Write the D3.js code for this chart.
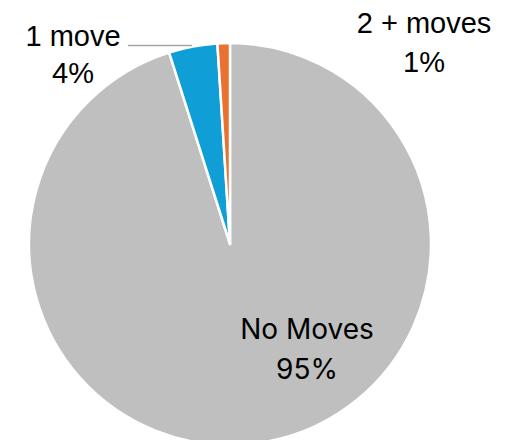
<!DOCTYPE html>
<html>
<head>
<meta charset="utf-8">
<script src="https://cdn.jsdelivr.net/npm/d3@7"></script>
<style>
  body { margin: 0; background: #fff; }
  svg { display: block; }
</style>
</head>
<body>
<div id="chart"></div>
<script>
// Data
var categories = ["No Moves", "1 move", "2 + moves"];
var values = [95.1, 3.9, 1.0];
var pctLabels = ["95%", "4%", "1%"];
var colors = ["#BFBFBF", "#0F9ED5", "#E97132"];

var width = 514,
    height = 440,
    radius = 201,
    cx = 230,
    cy = 244;

var svg = d3.select("#chart").append("svg")
    .attr("width", width)
    .attr("height", height);

var g = svg.append("g")
    .attr("transform", "translate(" + cx + "," + cy + ")");

var data = categories.map(function(c, i) {
    return { name: c, value: values[i], pct: pctLabels[i], color: colors[i] };
});

var pie = d3.pie()
    .sort(null)
    .value(function(d) { return d.value; });

var arc = d3.arc()
    .innerRadius(0)
    .outerRadius(radius);

var arcs = pie(data);

g.selectAll("path")
    .data(arcs)
    .enter().append("path")
    .attr("d", arc)
    .style("fill", function(d) { return d.data.color; })
    .style("stroke", "#fff")
    .style("stroke-width", 2.5)
    .style("stroke-linejoin", "round");

// label placement (relative to pie centre)
var labelPos = [
    { x: 77, size: 28, font: "Inter, 'Open Sans', sans-serif", y1: 95, y2: 135 },
    { x: -157, size: 29, font: "'Liberation Sans', Arial, sans-serif", y1: -198, y2: -161 },
    { x: 194, size: 29, font: "'Liberation Sans', Arial, sans-serif", y1: -211, y2: -172 }
];

var labels = g.selectAll(".lbl")
    .data(arcs)
    .enter().append("g")
    .attr("class", "lbl");

labels.append("text")
    .attr("x", function(d, i) { return labelPos[i].x; })
    .attr("y", function(d, i) { return labelPos[i].y1; })
    .attr("text-anchor", "middle")
    .style("font-family", function(d, i) { return labelPos[i].font; })
    .style("font-size", function(d, i) { return labelPos[i].size + "px"; })
    .style("fill", "#000")
    .text(function(d) { return d.data.name; });

labels.append("text")
    .attr("x", function(d, i) { return labelPos[i].x; })
    .attr("y", function(d, i) { return labelPos[i].y2; })
    .attr("text-anchor", "middle")
    .style("font-family", function(d, i) { return labelPos[i].font; })
    .style("font-size", function(d, i) { return labelPos[i].size + "px"; })
    .style("fill", "#000")
    .text(function(d) { return d.data.pct; });

// leader line for "1 move"
g.append("line")
    .attr("x1", -102)
    .attr("y1", -198.5)
    .attr("x2", -38)
    .attr("y2", -198.5)
    .style("stroke", "#A6A6A6")
    .style("stroke-width", 1.5);
</script>
</body>
</html>
